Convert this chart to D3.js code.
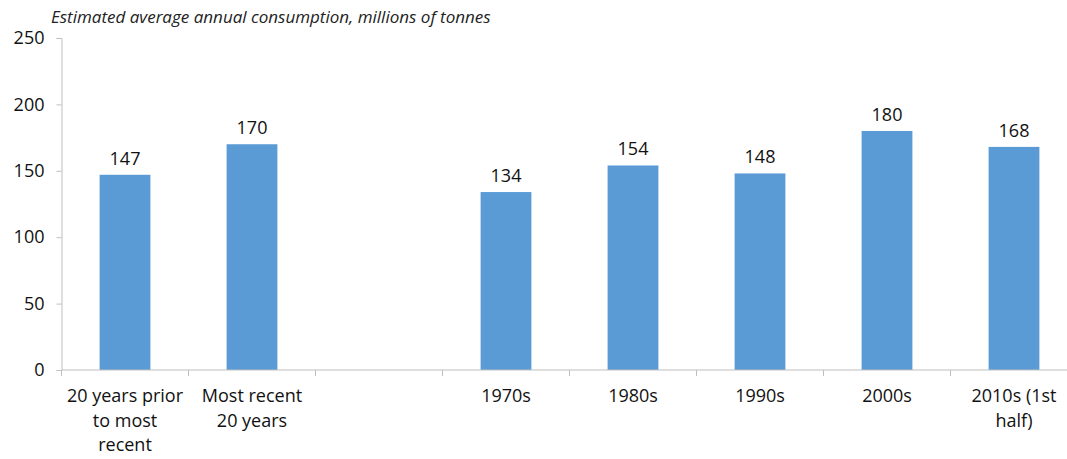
<!DOCTYPE html>
<html>
<head>
<meta charset="utf-8">
<script src="https://cdn.jsdelivr.net/npm/d3@7"></script>
<style>
  html, body { margin: 0; padding: 0; background: #fff; }
  svg { display: block; font-family: "Open Sans", sans-serif; }
</style>
</head>
<body>
<svg id="chart" width="1067" height="459"></svg>
<script>
const categories = ["20 years prior\nto most\nrecent", "Most recent\n20 years", "", "1970s", "1980s", "1990s", "2000s", "2010s (1st\nhalf)"];
const values = [147, 170, null, 134, 154, 148, 180, 168];
const yTicks = [0, 50, 100, 150, 200, 250];
const title = "Estimated average annual consumption, millions of tonnes";

const svg = d3.select("#chart");
const margin = { left: 61.5, top: 38, bottom: 89 };
const plotRight = 1077.5;
const font = "'Open Sans', sans-serif";

const x = d3.scaleBand().domain(d3.range(categories.length)).range([margin.left, plotRight]).paddingInner(0.6).paddingOuter(0.3);
const xTick = d3.scaleLinear().domain([0, categories.length]).range([margin.left, plotRight]);
const y = d3.scaleLinear().domain([0, 250]).range([370, margin.top]);

const axisColor = "#bfbfbf";

// title
svg.append("text").attr("x", 51).attr("y", 23)
  .attr("font-style", "italic").attr("font-size", 17).attr("fill", "#222")
  .text(title);

// y axis
const yAxis = svg.append("g").attr("transform", `translate(${margin.left},0)`)
  .call(d3.axisLeft(y).tickValues(yTicks).tickSize(5).tickPadding(12));
yAxis.select(".domain").attr("stroke", axisColor);
yAxis.selectAll(".tick line").attr("stroke", axisColor);
yAxis.selectAll(".tick text").attr("font-size", 18).attr("fill", "#111").attr("font-family", font);

// bars
const idx = d3.range(categories.length).filter(i => values[i] != null);
svg.append("g").selectAll("rect").data(idx).join("rect")
  .attr("x", i => x(i)).attr("width", x.bandwidth())
  .attr("y", i => y(values[i])).attr("height", i => y(0) - y(values[i]))
  .attr("fill", "#5b9bd5");

// data labels
svg.append("g").selectAll("text").data(idx).join("text")
  .attr("x", i => x(i) + x.bandwidth() / 2)
  .attr("y", i => y(values[i]) - 10)
  .attr("text-anchor", "middle").attr("font-size", 18).attr("fill", "#111")
  .text(i => values[i]);

// x axis line and ticks
const xg = svg.append("g");
xg.append("line").attr("x1", margin.left).attr("x2", plotRight).attr("y1", y(0)).attr("y2", y(0)).attr("stroke", axisColor);
xg.selectAll("line.t").data(d3.range(categories.length + 1)).join("line").attr("class", "t")
  .attr("x1", i => xTick(i)).attr("x2", i => xTick(i))
  .attr("y1", y(0)).attr("y2", y(0) + 6).attr("stroke", axisColor);

// x labels
const lab = xg.selectAll("text").data(categories).join("text")
  .attr("text-anchor", "middle").attr("font-size", 18).attr("fill", "#111")
  .attr("transform", (d, i) => `translate(${x(i) + x.bandwidth() / 2},402)`);
lab.each(function(d) {
  const t = d3.select(this);
  d.split("\n").forEach((line, k) => {
    t.append("tspan").attr("x", 0).attr("y", k * 24.5).text(line);
  });
});
</script>
</body>
</html>
